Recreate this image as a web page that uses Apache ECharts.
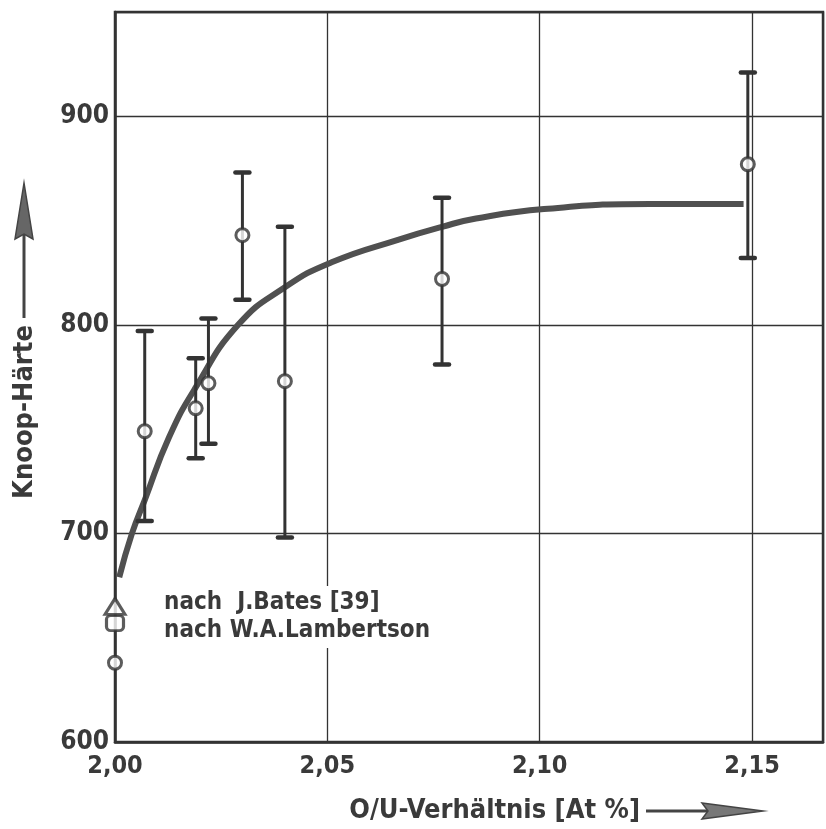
<!DOCTYPE html>
<html>
<head>
<meta charset="utf-8">
<script src="https://cdn.jsdelivr.net/npm/echarts@6/dist/echarts.min.js"></script>
<style>
  html, body { margin: 0; padding: 0; background: #fff; }
  #chart { width: 826px; height: 829px; }
</style>
</head>
<body>
<div id="chart"></div>
<script>
// measured points (O/U ratio, Knoop hardness) with error bar ends
const ratio = [2.000, 2.007, 2.019, 2.022, 2.030, 2.040, 2.077, 2.149];
const hardness = [638, 749, 760, 772, 843, 773, 822, 877];
const errLow = [null, 706, 736, 743, 812, 698, 781, 832];
const errHigh = [null, 797, 784, 803, 873, 847, 861, 921];

// single literature values at 2,00
const batesPoint = [2.000, 665];
const lambertsonPoint = [2.000, 657];

// fitted curve
const curveX = [2.001, 2.004, 2.007, 2.0127, 2.019, 2.029, 2.040, 2.051, 2.067, 2.077, 2.085, 2.101, 2.126, 2.148];
const curveY = [679, 700, 716, 746, 770, 800, 818, 830, 841, 847, 851, 855.5, 858, 858];

const xTicks = [2.00, 2.05, 2.10, 2.15];
const yTicks = [600, 700, 800, 900];

const ink = "#333";
const textInk = "#3a3a3a";
const labelFont = "DejaVu Sans Condensed";

const chart = echarts.init(document.getElementById("chart"));

const errData = [];
ratio.forEach((x, i) => {
  if (errLow[i] != null) errData.push([x, errLow[i], errHigh[i]]);
});

const option = {
  backgroundColor: "#fff",
  animation: false,
  grid: {
    left: 115,
    right: 3,
    top: 12,
    bottom: 87,
    show: true,
    borderColor: ink,
    borderWidth: 2.5,
    backgroundColor: "transparent",
  },
  xAxis: {
    type: "value",
    min: xTicks[0],
    max: 2.1667,
    interval: 0.05,
    axisLine: { show: true, lineStyle: { color: ink, width: 2.5 } },
    axisTick: { show: false },
    splitLine: { show: true, lineStyle: { color: ink, width: 1.3 } },
    axisLabel: {
      showMaxLabel: false,
      margin: 12,
      color: textInk,
      fontFamily: labelFont,
      fontWeight: "bold",
      fontSize: 25,
      formatter: (v) => v.toFixed(2).replace(".", ","),
    },
  },
  yAxis: {
    type: "value",
    min: yTicks[0],
    max: 950,
    interval: 100,
    axisLine: { show: true, lineStyle: { color: ink, width: 2.5 } },
    axisTick: { show: false },
    splitLine: { show: true, lineStyle: { color: ink, width: 1.3 } },
    axisLabel: {
      showMaxLabel: false,
      margin: 6,
      color: textInk,
      fontFamily: labelFont,
      fontWeight: "bold",
      fontSize: 26,
    },
  },
  series: [
    {
      name: "Kurve",
      type: "line",
      data: curveX.map((x, i) => [x, curveY[i]]),
      smooth: 0.5,
      symbol: "none",
      lineStyle: { color: "#505050", width: 6, cap: "butt" },
      z: 2,
    },
    {
      name: "Fehler",
      type: "custom",
      data: errData,
      z: 3,
      renderItem: (params, api) => {
        const x = api.value(0);
        const lo = api.coord([x, api.value(1)]);
        const hi = api.coord([x, api.value(2)]);
        const w = 7;
        const st = { stroke: ink, lineWidth: 3 };
        const cap = { stroke: ink, lineWidth: 4.5, lineCap: "round" };
        return {
          type: "group",
          children: [
            { type: "line", shape: { x1: lo[0], y1: lo[1], x2: hi[0], y2: hi[1] }, style: st },
            { type: "line", shape: { x1: hi[0] - w, y1: hi[1], x2: hi[0] + w, y2: hi[1] }, style: cap },
            { type: "line", shape: { x1: lo[0] - w, y1: lo[1], x2: lo[0] + w, y2: lo[1] }, style: cap },
          ],
        };
      },
    },
    {
      name: "Messwerte",
      type: "scatter",
      data: ratio.map((x, i) => [x, hardness[i]]),
      symbol: "circle",
      symbolSize: 13,
      itemStyle: { color: "#fff", borderColor: ink, borderWidth: 3 },
      z: 5,
    },
    {
      name: "nach J.Bates [39]",
      type: "scatter",
      data: [batesPoint],
      symbol: "triangle",
      symbolSize: [20, 16],
      itemStyle: { color: "#fff", borderColor: ink, borderWidth: 3 },
      z: 5,
    },
    {
      name: "nach W.A.Lambertson",
      type: "scatter",
      data: [lambertsonPoint],
      symbol: "roundRect",
      symbolSize: [17, 15],
      itemStyle: { color: "#fff", borderColor: ink, borderWidth: 3 },
      z: 4,
    },
  ],
  graphic: [
    // y axis title with arrow
    {
      type: "text",
      x: 25,
      y: 412,
      rotation: Math.PI / 2,
      style: {
        text: "Knoop-Härte",
        font: "bold 27px " + labelFont,
        fill: textInk,
        textAlign: "center",
        textVerticalAlign: "middle",
      },
    },
    {
      type: "line",
      shape: { x1: 24, y1: 318, x2: 24, y2: 232 },
      style: { stroke: "#444", lineWidth: 3 },
    },
    {
      type: "polygon",
      shape: { points: [[24, 183], [15, 239], [24, 234], [33, 239]] },
      style: { fill: "#666", stroke: "#444", lineWidth: 1.5 },
    },
    // x axis title with arrow
    {
      type: "text",
      x: 640,
      y: 811,
      style: {
        text: "O/U-Verhältnis [At %]",
        font: "bold 27px " + labelFont,
        fill: textInk,
        textAlign: "right",
        textVerticalAlign: "middle",
      },
    },
    {
      type: "line",
      shape: { x1: 646, y1: 811, x2: 708, y2: 811 },
      style: { stroke: "#444", lineWidth: 3 },
    },
    {
      type: "polygon",
      shape: { points: [[763, 811], [702, 803], [708, 811], [702, 819]] },
      style: { fill: "#777", stroke: "#444", lineWidth: 1.5 },
    },
    // legend texts
    {
      type: "text",
      x: 160,
      y: 603,
      z: 10,
      style: {
        text: "nach  J.Bates [39]",
        font: "bold 24px " + labelFont,
        fill: textInk,
        textVerticalAlign: "middle",
        backgroundColor: "#fff",
        padding: [8, 4, 2, 4],
      },
    },
    {
      type: "text",
      x: 160,
      y: 631,
      z: 10,
      style: {
        text: "nach W.A.Lambertson",
        font: "bold 24px " + labelFont,
        fill: textInk,
        textVerticalAlign: "middle",
        backgroundColor: "#fff",
        padding: [2, 4, 8, 4],
      },
    },
  ],
};

chart.setOption(option);
window.addEventListener("resize", () => chart.resize());
</script>
</body>
</html>
